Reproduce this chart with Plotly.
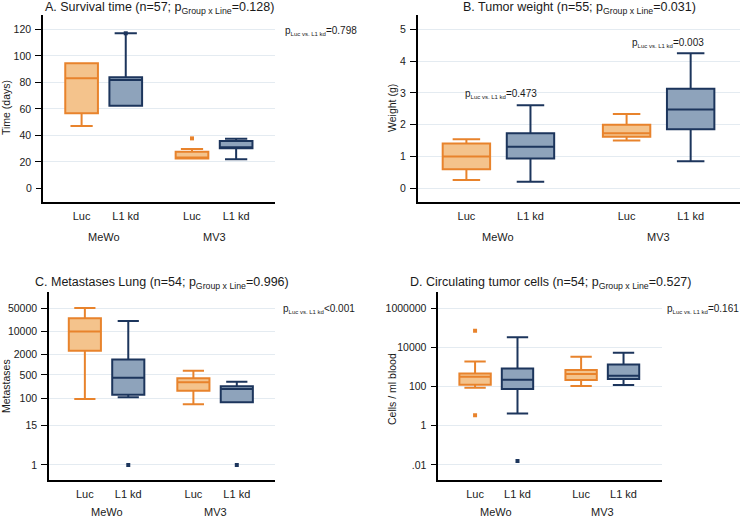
import plotly.graph_objects as go

W, H = 740, 518

# ---------------- data ----------------
cat_x = [1, 2, 3.5, 4.5]
cat_labels = ["Luc", "L1 kd", "Luc", "L1 kd"]
group_x = [1.5, 4.0]
group_labels = ["MeWo", "MV3"]
series = ["Luc", "L1 kd", "Luc", "L1 kd"]

# A. Survival time (days)
a_q1 = [56.6, 62.3, 22.6, 30.2]
a_med = [83.0, 81.7, 22.8, 30.6]
a_q3 = [94.3, 83.8, 27.6, 35.7]
a_lo = [47.0, 62.3, 22.6, 22.0]
a_hi = [94.3, 117.0, 29.6, 37.4]
a_out_x = [2, 3.5]
a_out_y = [117.0, 37.7]
a_out_s = ["L1 kd", "Luc"]

# B. Tumor weight (g)
b_q1 = [0.60, 0.94, 1.62, 1.86]
b_med = [1.00, 1.31, 1.73, 2.48]
b_q3 = [1.41, 1.73, 2.00, 3.13]
b_lo = [0.26, 0.21, 1.50, 0.85]
b_hi = [1.54, 2.61, 2.34, 4.25]

# C. Metastases lung
c_q1 = [2650, 127, 167, 75]
c_med = [10000, 410, 300, 190]
c_q3 = [25000, 1450, 395, 228]
c_lo = [95, 107, 66, 75]
c_hi = [50000, 20500, 665, 312]
c_out_x = [2, 4.5]
c_out_y = [1, 1]
c_out_s = ["L1 kd", "L1 kd"]

# D. Circulating tumor cells (cells / ml blood)
d_q1 = [125, 75, 217, 245]
d_med = [318, 225, 440, 360]
d_q3 = [475, 855, 705, 1370]
d_lo = [87, 4.3, 107, 120]
d_hi = [1950, 33000, 3350, 5350]
d_out_x = [1, 1, 2]
d_out_y = [71000, 3.5, 0.016]
d_out_s = ["Luc", "Luc", "L1 kd"]

a_ticks = [0, 20, 40, 60, 80, 100, 120]
b_ticks = [0, 1, 2, 3, 4, 5]
c_ticks = [1, 15, 100, 500, 2000, 10000, 50000]
c_ticktext = ["1", "15", "100", "500", "2000", "10000", "50000"]
d_ticks = [0.01, 1, 100, 10000, 1000000]
d_ticktext = [".01", "1", "100", "10000", "1000000"]

titles = [
    "A. Survival time (n=57; p<sub>Group x Line</sub>=0.128)",
    "B. Tumor weight (n=55; p<sub>Group x Line</sub>=0.031)",
    "C. Metastases Lung (n=54; p<sub>Group x Line</sub>=0.996)",
    "D. Circulating tumor cells (n=54; p<sub>Group x Line</sub>=0.527)",
]
ytitles = ["Time (days)", "Weight (g)", "Metastases", "Cells / ml blood"]
psub = "p<sub><span style='font-size:6px'>Luc vs. L1 kd</span></sub>"

# ---------------- style ----------------
FILL = {"Luc": "#F4C38C", "L1 kd": "#8EA3BB"}
EDGE = {"Luc": "#E8832C", "L1 kd": "#1C355C"}
FONT = "Liberation Sans, Arial, sans-serif"
GRID = "#E4EBF1"
TXT = "#1a1a1a"

fig = go.Figure()

def px(x):
    return x / W

def py(y):
    return 1 - y / H

panels = [
    dict(ax="", dom_x=[px(43), px(275)], dom_y=[py(202), py(15)], rng=[0.126, 5.38],
         yr=[-10.3, 130.8], ylog=False, ww=0.68,
         q1=a_q1, med=a_med, q3=a_q3, lo=a_lo, hi=a_hi,
         ox=a_out_x, oy=a_out_y, os=a_out_s),
    dict(ax="2", dom_x=[px(417.7), px(740)], dom_y=[py(202), py(15)], rng=[0.24, 5.27],
         yr=[-0.43, 5.45], ylog=False, ww=0.58,
         q1=b_q1, med=b_med, q3=b_q3, lo=b_lo, hi=b_hi, ox=[], oy=[], os=[]),
    dict(ax="3", dom_x=[px(49), px(275)], dom_y=[py(480), py(291.7)], rng=[0.174, 5.38],
         yr=[-0.45, 5.19], ylog=True, ww=0.66,
         q1=c_q1, med=c_med, q3=c_q3, lo=c_lo, hi=c_hi,
         ox=c_out_x, oy=c_out_y, os=c_out_s),
    dict(ax="4", dom_x=[px(438.3), px(661.7)], dom_y=[py(480), py(291.7)], rng=[0.133, 5.4],
         yr=[-2.77, 6.85], ylog=True, ww=0.68,
         q1=d_q1, med=d_med, q3=d_q3, lo=d_lo, hi=d_hi,
         ox=d_out_x, oy=d_out_y, os=d_out_s),
]

for p in panels:
    xa, ya = "x" + p["ax"], "y" + p["ax"]
    for i, xv in enumerate(cat_x):
        s = series[i]
        fig.add_trace(go.Box(
            x=[xv], q1=[p["q1"][i]], median=[p["med"][i]], q3=[p["q3"][i]],
            lowerfence=[p["lo"][i]], upperfence=[p["hi"][i]],
            width=0.74, whiskerwidth=p["ww"],
            fillcolor=FILL[s], line=dict(color=EDGE[s], width=2),
            boxpoints=False, showlegend=False, xaxis=xa, yaxis=ya, hoverinfo="skip",
        ))
    for xv, yv, s in zip(p["ox"], p["oy"], p["os"]):
        fig.add_trace(go.Scatter(
            x=[xv], y=[yv], mode="markers",
            marker=dict(symbol="square", size=4, color=EDGE[s]),
            showlegend=False, xaxis=xa, yaxis=ya, hoverinfo="skip",
        ))

def xaxis_cfg(p):
    return dict(domain=p["dom_x"], range=p["rng"], anchor="y" + p["ax"],
                tickvals=cat_x, ticktext=cat_labels, ticks="", ticklen=0, showgrid=False,
                zeroline=False, showline=True, linecolor="#000000", linewidth=1.5,
                tickfont=dict(family=FONT, size=11, color=TXT), ticklabelstandoff=3)

def yaxis_cfg(p, tv, tt):
    d = dict(domain=p["dom_y"], range=p["yr"], anchor="x" + p["ax"],
             tickvals=tv, ticktext=tt, ticks="outside", ticklen=6, tickwidth=1,
             tickcolor="#000", showgrid=True, gridcolor=GRID, gridwidth=1,
             zeroline=False, showline=True, linecolor="#000000", linewidth=1.5,
             tickfont=dict(family=FONT, size=10.5, color=TXT), ticklabelstandoff=2)
    if p["ylog"]:
        d["type"] = "log"
    return d

layout = dict(
    width=W, height=H, margin=dict(l=0, r=0, t=0, b=0),
    paper_bgcolor="white", plot_bgcolor="white", showlegend=False,
    font=dict(family=FONT, color=TXT),
)
# A: gridlines everywhere except 0 -> 0 tick on an overlay axis
layout["xaxis"] = xaxis_cfg(panels[0])
layout["yaxis"] = yaxis_cfg(panels[0], a_ticks[1:], [str(t) for t in a_ticks[1:]])
ov = yaxis_cfg(panels[0], [a_ticks[0]], [str(a_ticks[0])])
ov.update(overlaying="y", showgrid=False, showline=False)
layout["yaxis5"] = ov
layout["xaxis2"] = xaxis_cfg(panels[1])
layout["yaxis2"] = yaxis_cfg(panels[1], b_ticks, [str(t) for t in b_ticks])
layout["xaxis3"] = xaxis_cfg(panels[2])
layout["yaxis3"] = yaxis_cfg(panels[2], c_ticks, c_ticktext)
layout["xaxis4"] = xaxis_cfg(panels[3])
layout["yaxis4"] = yaxis_cfg(panels[3], d_ticks, d_ticktext)
fig.update_layout(**layout)
# dummy trace to activate the overlay axis
fig.add_trace(go.Scatter(x=[None], y=[None], xaxis="x", yaxis="y5", showlegend=False))

ann = []
# panel titles
title_pos = [(159, 7.5), (579, 7.5), (162, 283), (550, 283)]
for t, (tx, ty) in zip(titles, title_pos):
    ann.append(dict(text=t, x=px(tx), y=py(ty), xref="paper", yref="paper",
                    xanchor="center", yanchor="middle", showarrow=False,
                    font=dict(family=FONT, size=12.5, color=TXT)))
# y titles
ytitle_pos = [(6, 108), (392, 108), (6, 386), (392, 389)]
for t, (tx, ty) in zip(ytitles, ytitle_pos):
    ann.append(dict(text=t, x=px(tx), y=py(ty), xref="paper", yref="paper",
                    xanchor="center", yanchor="middle", textangle=-90, showarrow=False,
                    font=dict(family=FONT, size=10.5, color=TXT)))
# group labels
for p, gy in zip(panels, [237, 237, 512, 512]):
    for gx, gl in zip(group_x, group_labels):
        ann.append(dict(text=gl, x=gx, y=py(gy), xref="x" + p["ax"], yref="paper",
                        xanchor="center", yanchor="middle", showarrow=False,
                        font=dict(family=FONT, size=11, color=TXT)))
# p-value annotations
pfont = dict(family=FONT, size=10, color=TXT)
ann.append(dict(text=psub + "=0.798", x=px(284), y=py(31), xref="paper", yref="paper",
                xanchor="left", yanchor="middle", align="left", borderpad=0,
                showarrow=False, font=pfont))
ann.append(dict(text=psub + "&lt;0.001", x=px(282), y=py(309), xref="paper",
                yref="paper", xanchor="left", yanchor="middle", align="left", borderpad=0,
                showarrow=False, font=pfont))
ann.append(dict(text=psub + "=0.161", x=px(740), y=py(309), xref="paper", yref="paper",
                xanchor="right", yanchor="middle", align="right", borderpad=0,
                showarrow=False, font=pfont))
ann.append(dict(text=psub + "=0.473", x=1.54, y=2.96, xref="x2", yref="y2",
                xanchor="center", yanchor="middle", showarrow=False, font=pfont))
ann.append(dict(text=psub + "=0.003", x=4.14, y=4.58, xref="x2", yref="y2",
                xanchor="center", yanchor="middle", showarrow=False, font=pfont))
fig.update_layout(annotations=ann)

fig.write_html("out.html", config={"displayModeBar": False},
               post_script="document.body.style.margin='0';document.body.style.padding='0';")
